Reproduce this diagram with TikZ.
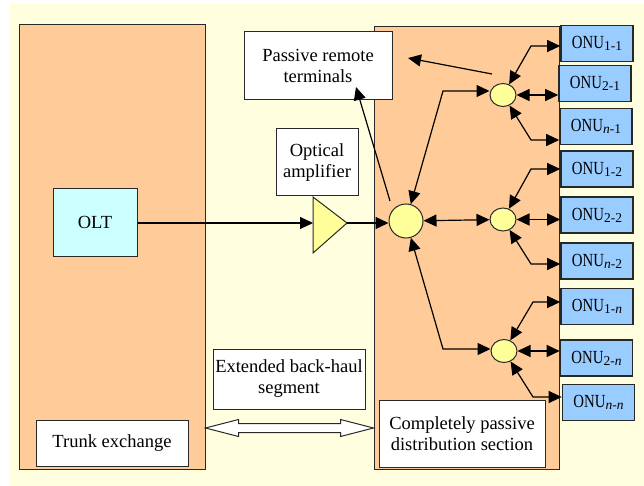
\documentclass[tikz,border=0pt]{standalone}
\usepackage{fontspec}
\setmainfont{Liberation Serif}
\usepackage{graphicx}
\usetikzlibrary{positioning,arrows.meta,shapes.geometric,calc}
\definecolor{pagebg}{RGB}{255,255,224}
\definecolor{sitebg}{RGB}{255,204,153}
\definecolor{oltfill}{RGB}{204,255,255}
\definecolor{onufill}{RGB}{153,204,255}
\definecolor{splitfill}{RGB}{255,255,153}
\definecolor{edgegray}{RGB}{40,40,40}
\newcommand{\onulabel}[1]{\scalebox{0.8}[1]{ONU}\raisebox{-2pt}{\fontsize{13.5}{14}\selectfont #1}}

\begin{document}
\begin{tikzpicture}[x=1pt,y=-1pt,every node/.style={font=\rmfamily\fontsize{18.5}{21}\selectfont},
    site/.style={draw=edgegray,fill=sitebg,line width=1pt,inner sep=0pt},
    box/.style={draw=edgegray,fill=white,line width=1pt,align=center,inner sep=0pt},
    onubox/.style={draw=edgegray,fill=onufill,line width=1.6pt,inner sep=0pt,minimum width=72pt,minimum height=36pt},
    splitter/.style={ellipse,draw=edgegray,fill=splitfill,line width=1pt,inner sep=0pt,minimum width=26pt,minimum height=23pt},
    tip/.style={line width=1.2pt,-{Triangle[length=13pt,width=12pt]}},
    both/.style={line width=1.2pt,{Triangle[length=13pt,width=12pt]}-{Triangle[length=13pt,width=12pt]}}]
    \useasboundingbox (0,0) rectangle (644,486);
    \fill[pagebg] (10,4) rectangle (644,486);
    % sites
    \node[site,minimum width=186pt,minimum height=444pt] (exch) at (112,247) {};
    \node[site,minimum width=185pt,minimum height=442pt] (dist) at (466.5,248) {};
    % text boxes
    \node[box,fill=oltfill,minimum width=84pt,minimum height=67pt] (olt) at (95,222.5) {OLT};
    \node[box,minimum width=148pt,minimum height=68pt] (remote) at (318,66) {Passive remote\\terminals};
    \node[box,minimum width=82pt,minimum height=67pt] (amptext) at (317,162.5) {Optical\\amplifier};
    \node[box,minimum width=152pt,minimum height=60pt] (haul) at (289,379) {Extended back-haul\\segment};
    \node[box,minimum width=152pt,minimum height=46pt] (trunk) at (112,443) {Trunk exchange};
    \node[box,minimum width=166pt,minimum height=67pt] (pds) at (462,433.5) {Completely passive\\distribution section};
    % amplifier
    \coordinate (ampin) at (313,223);
    \coordinate (ampout) at (347,223);
    \filldraw[fill=splitfill,draw=edgegray,line width=1pt] (313,197) -- (ampout) -- (313,253) -- cycle;
    % splitters
    \node[splitter,minimum width=34pt,minimum height=34pt] (sp0) at (406,221) {};
    \node[splitter] (sp1) at (503,95) {};
    \node[splitter] (sp2) at (503,219.5) {};
    \node[splitter] (sp3) at (504,351) {};
    % ONUs
    \node[onubox] (onu11) at (597,43.5) {\onulabel{1-1}};
    \node[onubox] (onu21) at (595,83.5) {\onulabel{2-1}};
    \node[onubox] (onun1) at (596,126.5) {\onulabel{\textit{n}-1}};
    \node[onubox] (onu12) at (597,169) {\onulabel{1-2}};
    \node[onubox] (onu22) at (597,215) {\onulabel{2-2}};
    \node[onubox] (onun2) at (597,261) {\onulabel{\textit{n}-2}};
    \node[onubox] (onu1n) at (597,306.5) {\onulabel{1-\textit{n}}};
    \node[onubox] (onu2n) at (596.5,358) {\onulabel{2-\textit{n}}};
    \node[onubox] (onunn) at (598.5,402.5) {\onulabel{\textit{n}-\textit{n}}};
    % corners
    \coordinate (k1) at (443,91);
    \coordinate (k3) at (443,349);
    \coordinate (u1) at (531,46);
    \coordinate (d1) at (531,140);
    \coordinate (u2) at (531,169);
    \coordinate (d2) at (531,264);
    \coordinate (u3) at (533,302);
    \coordinate (d3) at (533,397);
    \coordinate (rtfoot) at (390,201);
    \coordinate (rthead) at (356,87);
    \coordinate (fbfoot) at (492,74);
    \coordinate (fbhead) at (408,58);
    % feeder
    \draw[tip] (olt.east |- ampin) -- (ampin);
    \draw[tip] (ampout) -- (ampout -| sp0.west);
    \draw[tip] (rtfoot) -- (rthead);
    \draw[tip] (fbfoot) -- (fbhead);
    \draw[both] (sp0) -- (k1) -- (k1 -| sp1.west);
    \draw[both] (sp0) -- (sp2);
    \draw[both] (sp0) -- (k3) -- (k3 -| sp3.west);
    % drops
    \draw[both] (sp1) -- (u1) -- (u1 -| onu11.west);
    \draw[both] (sp1) -- (sp1 -| onu21.west);
    \draw[both] (sp1) -- (d1) -- (d1 -| onun1.west);
    \draw[both] (sp2) -- (u2) -- (u2 -| onu12.west);
    \draw[both] (sp2) -- (sp2 -| onu22.west);
    \draw[both] (sp2) -- (d2) -- (d2 -| onun2.west);
    \draw[both] (sp3) -- (u3) -- (u3 -| onu1n.west);
    \draw[both] (sp3) -- (sp3 -| onu2n.west);
    \draw[both] (sp3) -- (d3) -- (d3 -| onunn.west);
    % back-haul
    \coordinate (bhL) at (exch.east |- 0,428);
    \coordinate (bhR) at (dist.west |- 0,428);
    \filldraw[fill=white,draw=edgegray,line width=1pt] (bhL) -- ++(33,-8.5) -- ++(0,4) -- ($(bhR)+(-33,-4.5)$) -- ++(0,-4) -- (bhR)
      -- ++(-33,8.5) -- ++(0,-4) -- ($(bhL)+(33,4.5)$) -- ++(0,4) -- cycle;
  \end{tikzpicture}
\end{document}
